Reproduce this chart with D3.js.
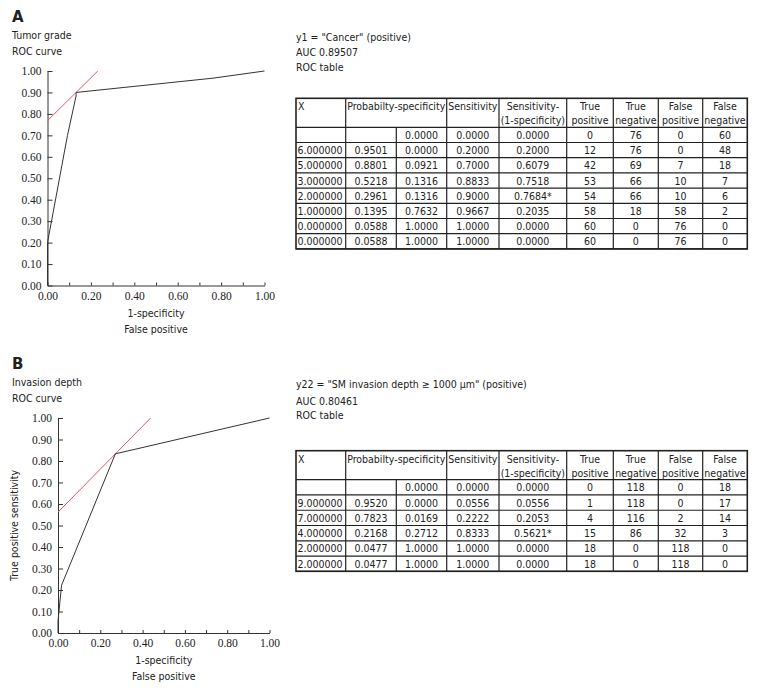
<!DOCTYPE html>
<html>
<head>
<meta charset="utf-8">
<script src="https://cdn.jsdelivr.net/npm/d3@7"></script>
<style>
  body { margin: 0; background: #fff; }
  text { font-family: "DejaVu Sans", sans-serif; font-stretch: condensed; fill: #222; }
  .tick text { font-family: "Liberation Serif", "Times New Roman", serif; font-stretch: normal; }
</style>
</head>
<body>
<svg id="fig" width="762" height="691"></svg>
<script>
// ---- panel A data (tumor grade) ----
var xA    = ["", "6.000000", "5.000000", "3.000000", "2.000000", "1.000000", "0.000000", "0.000000"];
var probA = ["", "0.9501", "0.8801", "0.5218", "0.2961", "0.1395", "0.0588", "0.0588"];
var fprA  = [0, 0, 0.0921, 0.1316, 0.1316, 0.7632, 1, 1];
var tprA  = [0, 0.2, 0.7, 0.8833, 0.9, 0.9667, 1, 1];
var diffA = ["0.0000", "0.2000", "0.6079", "0.7518", "0.7684*", "0.2035", "0.0000", "0.0000"];
var tpA   = [0, 12, 42, 53, 54, 58, 60, 60];
var tnA   = [76, 76, 69, 66, 66, 18, 0, 0];
var fpA   = [0, 0, 7, 10, 10, 58, 76, 76];
var fnA   = [60, 48, 18, 7, 6, 2, 0, 0];
var cutA  = 0.7684;

// ---- panel B data (invasion depth) ----
var xB    = ["", "9.000000", "7.000000", "4.000000", "2.000000", "2.000000"];
var probB = ["", "0.9520", "0.7823", "0.2168", "0.0477", "0.0477"];
var fprB  = [0, 0, 0.0169, 0.2712, 1, 1];
var tprB  = [0, 0.0556, 0.2222, 0.8333, 1, 1];
var diffB = ["0.0000", "0.0556", "0.2053", "0.5621*", "0.0000", "0.0000"];
var tpB   = [0, 1, 4, 15, 18, 18];
var tnB   = [118, 118, 116, 86, 0, 0];
var fpB   = [0, 0, 2, 32, 118, 118];
var fnB   = [18, 17, 14, 3, 0, 0];
var cutB  = 0.5621;

var tickVals = d3.range(0, 11).map(function(i) { return i / 10; });
var headers = [["X"], ["Probabilty-specificity"], [], ["Sensitivity"], ["Sensitivity-", "(1-specificity)"],
  ["True", "positive"], ["True", "negative"], ["False", "positive"], ["False", "negative"]];

// table column edges (layout)
var colEdges = [296, 345.7, 396.3, 446.7, 499, 566.7, 613.3, 658.3, 702.7, 747.3];

var svg = d3.select("#fig");
var f2 = d3.format(".2f"), f4 = d3.format(".4f");

function drawRoc(p) {
  var x = d3.scaleLinear().domain([0, 1]).range([p.left, p.right]);
  var y = d3.scaleLinear().domain([0, 1]).range([p.bottom, p.top]);
  var g = svg.append("g");

  g.append("text").attr("x", 12).attr("y", p.top - 49)
    .style("font-weight", "bold").style("font-size", "15px").style("font-stretch", "normal").text(p.letter);
  g.append("text").attr("x", 12).attr("y", p.top - 32).style("font-size", "10.5px").text(p.title);
  g.append("text").attr("x", 12).attr("y", p.top - 16).style("font-size", "10.5px").text("ROC curve");

  var ya = g.append("g").attr("transform", "translate(" + p.left + ",0)")
    .call(d3.axisLeft(y).tickValues(tickVals).tickFormat(f2).tickSizeInner(-5).tickSizeOuter(0).tickPadding(6));
  var xa = g.append("g").attr("transform", "translate(0," + p.bottom + ")")
    .call(d3.axisBottom(x).tickValues(tickVals)
      .tickFormat(function(d, i) { return i % 2 ? "" : f2(d); })
      .tickSizeInner(-3).tickSizeOuter(0).tickPadding(6));
  [ya, xa].forEach(function(a) {
    a.selectAll("path, line").attr("stroke", "#333");
    a.selectAll("text").style("font-size", "11.5px").attr("fill", "#222");
  });

  var cx = (p.left + p.right) / 2;
  g.append("text").attr("x", cx).attr("y", p.bottom + 31).attr("text-anchor", "middle")
    .style("font-size", "10.5px").text("1-specificity");
  g.append("text").attr("x", cx).attr("y", p.bottom + 47).attr("text-anchor", "middle")
    .style("font-size", "10.5px").text("False positive");
  if (p.yLabel) {
    g.append("text").attr("transform", "translate(18," + ((p.top + p.bottom) / 2) + ") rotate(-90)")
      .attr("text-anchor", "middle").style("font-size", "10.5px").text(p.yLabel);
  }

  var line = d3.line().x(function(d) { return x(d[0]); }).y(function(d) { return y(d[1]); });
  // tangent line at the optimal cut-off
  g.append("path").datum([[0, p.cut], [1 - p.cut, 1]])
    .attr("d", line).attr("fill", "none").attr("stroke", "#e8506a").attr("stroke-width", 1);
  g.append("path").datum(d3.zip(p.fpr, p.tpr))
    .attr("d", line).attr("fill", "none").attr("stroke", "#333").attr("stroke-width", 1);
}

function drawTable(t) {
  var g = svg.append("g");
  t.info.forEach(function(s, i) {
    g.append("text").attr("x", 296).attr("y", t.infoY[i]).style("font-size", "10.5px").text(s);
  });

  var headH = 29, rowH = t.rowH;
  var n = t.cols[0].length;
  var top = t.top, hb = top + headH, bottom = hb + n * rowH;
  var L = colEdges[0], R = colEdges[colEdges.length - 1];

  // grid lines
  for (var r = 0; r <= n; r++) {
    g.append("line").attr("x1", L).attr("x2", R).attr("y1", hb + r * rowH).attr("y2", hb + r * rowH)
      .attr("stroke", "#222").attr("stroke-width", 1.2);
  }
  colEdges.slice(1, -1).forEach(function(e, i) {
    g.append("line").attr("x1", e).attr("x2", e).attr("y1", i === 1 ? hb : top).attr("y2", bottom)
      .attr("stroke", "#222").attr("stroke-width", 1.2);
  });
  g.append("rect").attr("x", L).attr("y", top).attr("width", R - L).attr("height", bottom - top)
    .attr("fill", "none").attr("stroke", "#222").attr("stroke-width", 1.6);

  // header
  headers.forEach(function(h, c) {
    h.forEach(function(s, k) {
      var xx, anchor = "middle";
      if (c === 0) { xx = L + 2; anchor = "start"; }
      else if (c === 1) xx = (colEdges[1] + colEdges[3]) / 2;
      else xx = (colEdges[c] + colEdges[c + 1]) / 2;
      g.append("text").attr("x", xx).attr("y", top + 12 + k * 14).attr("text-anchor", anchor)
        .style("font-size", "10.5px").text(s);
    });
  });

  // body
  t.cols.forEach(function(col, c) {
    col.forEach(function(v, r) {
      var left = c === 0;
      g.append("text")
        .attr("x", left ? colEdges[0] + 1.5 : (colEdges[c] + colEdges[c + 1]) / 2)
        .attr("y", hb + r * rowH + rowH / 2 + 4)
        .attr("text-anchor", left ? "start" : "middle")
        .style("font-size", "10.5px").text(v);
    });
  });
}

drawRoc({ letter: "A", title: "Tumor grade", left: 47.5, right: 264.5, top: 71, bottom: 285.5,
  fpr: fprA, tpr: tprA, cut: cutA });
drawRoc({ letter: "B", title: "Invasion depth", left: 58, right: 269.5, top: 418, bottom: 633,
  fpr: fprB, tpr: tprB, cut: cutB, yLabel: "True positive sensitivity" });

drawTable({ info: ['y1 = "Cancer" (positive)', "AUC 0.89507", "ROC table"], infoY: [41, 56, 71],
  top: 98.3, rowH: 15.2,
  cols: [xA, probA, fprA.map(f4), tprA.map(f4), diffA, tpA, tnA, fpA, fnA] });
drawTable({ info: ['y22 = "SM invasion depth \u2265 1000 \u03bcm" (positive)', "AUC 0.80461", "ROC table"],
  infoY: [388, 404.5, 419],
  top: 450.7, rowH: 15.27,
  cols: [xB, probB, fprB.map(f4), tprB.map(f4), diffB, tpB, tnB, fpB, fnB] });
</script>
</body>
</html>
